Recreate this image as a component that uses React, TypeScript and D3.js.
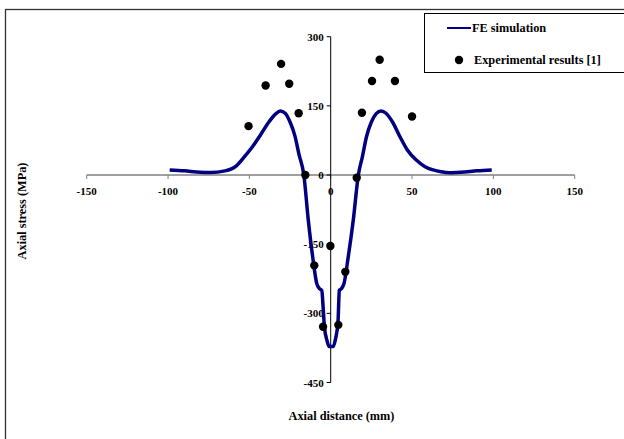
import React from "react";
import * as d3 from "d3";

const feX = [-99, -90, -80, -74, -65, -58, -53, -48, -43, -38, -34, -31, -28, -25, -22, -19.5, -16.5, -13.8, -11.1, -8.6, -7, -5.5, -4.6, -3.9, -2.2, -1, 1.5, 3, 4.5, 5.3, 6.7, 8.2, 10.8, 13.9, 17, 19.5, 22, 25, 28, 31, 34, 38, 42.6, 47, 52.8, 58, 63, 68, 73, 80, 90, 99];
const feY = [11, 9, 6, 5.5, 9, 20, 40, 62, 88, 115, 132, 139, 134, 115, 85, 45, 0, -97, -177, -235, -246, -250, -290, -328, -360, -372, -372, -355, -318, -250, -246, -235, -177, -97, 0, 40, 83, 115, 133, 139, 134, 115, 83, 55, 32, 18, 11, 7, 5, 6, 9, 11];

const expX = [-50.5, -40, -30.5, -25.5, -19.7, -15.6, -10.1, -0.2, -4.7, 4.7, 9, 16, 19.2, 25.4, 30.1, 39.5, 50];
const expY = [106, 194, 241, 198, 134, 0, -196, -154, -329, -325, -210, -6, 135, 204, 250, 204, 127];

const xTicks = [-150, -100, -50, 0, 50, 100, 150];
const yTicks = [300, 150, 0, -150, -300, -450];

const FONT = "'Liberation Serif', 'Times New Roman', serif";

export default function App() {
  const x = d3.scaleLinear().domain([-150, 150]).range([86.7, 574.7]);
  const y = d3.scaleLinear().domain([-450, 300]).range([382.5, 36.7]);
  const pts: [number, number][] = feX.map((v, i) => [v, feY[i]]);
  const line = d3
    .line<[number, number]>()
    .x((d) => x(d[0]))
    .y((d) => y(d[1]))
    .curve(d3.curveMonotoneX);
  const x0 = x(0);
  const y0 = y(0);
  return (
    <svg
      width={624}
      height={439}
      style={{ position: "absolute", left: 0, top: 0, background: "#fff" }}
      fontFamily={FONT}
    >
      <rect x={0} y={0} width={624} height={439} fill="#fff" />
      <rect x={5.5} y={9.5} width={700} height={500} fill="none" stroke="#333" strokeWidth={1.3} />
      {/* x axis */}
      <line x1={x(-150)} x2={x(150)} y1={y0} y2={y0} stroke="#808080" strokeWidth={1.5} />
      {xTicks.map((t) => (
        <g key={"xt" + t}>
          <line x1={x(t)} x2={x(t)} y1={y0} y2={y0 + 4} stroke="#808080" strokeWidth={1} />
          <text x={x(t)} y={y0 + 19.5} textAnchor="middle" fontSize={11} fontWeight="bold">
            {t}
          </text>
        </g>
      ))}
      {/* y axis */}
      <line x1={x0} x2={x0} y1={y(300)} y2={y(-450)} stroke="#000" strokeWidth={1} />
      {yTicks.map((t) => (
        <g key={"yt" + t}>
          <line x1={x0 - 4} x2={x0} y1={y(t)} y2={y(t)} stroke="#000" strokeWidth={1} />
          <text x={x0 - 7} y={y(t) + 4} textAnchor="end" fontSize={11} fontWeight="bold">
            {t}
          </text>
        </g>
      ))}
      <path d={line(pts) || ""} fill="none" stroke="#000080" strokeWidth={3.5} strokeLinejoin="round" />
      {expX.map((v, i) => (
        <circle key={"e" + i} cx={x(v)} cy={y(expY[i])} r={4.2} fill="#000" />
      ))}
      {/* titles */}
      <text x={341.5} y={420} textAnchor="middle" fontSize={12.3} fontWeight="bold">
        Axial distance (mm)
      </text>
      <text
        transform={`translate(26,211) rotate(-90)`}
        textAnchor="middle"
        fontSize={12.3}
        fontWeight="bold"
      >
        Axial stress (MPa)
      </text>
      {/* legend */}
      <rect x={424.5} y={13.5} width={300} height={59} fill="#fff" stroke="#000" strokeWidth={1} />
      <line x1={447} x2={471} y1={28} y2={28} stroke="#000080" strokeWidth={2} />
      <text x={472} y={32} fontSize={12.3} fontWeight="bold">
        FE simulation
      </text>
      <circle cx={459} cy={60} r={4.2} fill="#000" />
      <text x={474} y={64} fontSize={12.3} fontWeight="bold">
        Experimental results [1]
      </text>
    </svg>
  );
}
